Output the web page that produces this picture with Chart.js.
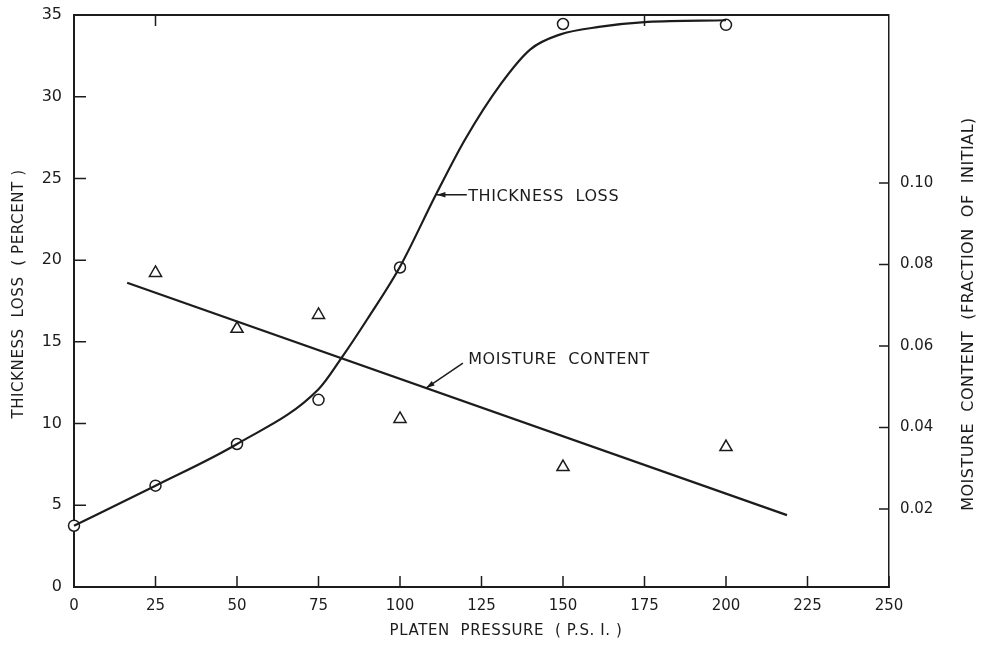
<!DOCTYPE html>
<html>
<head>
<meta charset="utf-8">
<script src="https://cdn.jsdelivr.net/npm/chart.js@4"></script>
<style>
  html, body { margin: 0; padding: 0; background: #fff; }
  #wrap { width: 982px; height: 645px; }
</style>
</head>
<body>
<div id="wrap"><canvas id="chart" width="982" height="645"></canvas></div>
<script>
// observed points
const pressure = [0, 25, 50, 75, 100, 150, 200];
const thicknessObs = [3.75, 6.2, 8.75, 11.45, 19.55, 34.45, 34.4];
const moisturePressure = [25, 50, 75, 100, 150, 200];
const moistureObs = [0.0779, 0.0642, 0.0676, 0.0421, 0.0303, 0.0352];

// hand-drawn fitted curves
const curvePressure = [0, 25, 50, 75, 82, 90, 100, 111, 120, 131, 140, 149, 161, 176, 200];
const curveThickness = [3.75, 6.2, 8.75, 12.1, 14.0, 16.4, 19.6, 24.0, 27.4, 30.8, 32.9, 33.8, 34.27, 34.58, 34.68];
const moistureFitPressure = [16.3, 218.7];
const moistureFit = [0.0755, 0.0185];

// axis ticks
const xTicks = [0, 25, 50, 75, 100, 125, 150, 175, 200, 225, 250];
const yTicks = [0, 5, 10, 15, 20, 25, 30, 35];
const y2Ticks = [0.02, 0.04, 0.06, 0.08, 0.10];
const topTicks = [25, 175];

const INK = '#1c1c1c';
const FONT = "'DejaVu Sans', sans-serif";

const toXY = (xs, ys) => xs.map((x, i) => ({ x: x, y: ys[i] }));

// moisture fit value at a given pressure, for the callout tip
const moistureAt = p => moistureFit[0] + (p - moistureFitPressure[0]) *
    (moistureFit[1] - moistureFit[0]) / (moistureFitPressure[1] - moistureFitPressure[0]);

// inward tick marks, frame top, titles and callouts
const decor = {
    id: 'decor',
    afterDraw(chart) {
        const { ctx, chartArea: a, scales } = chart;
        const x = scales.x, y = scales.y, y2 = scales.y2;
        ctx.save();
        ctx.strokeStyle = INK;
        ctx.fillStyle = INK;

        // top frame line
        ctx.lineWidth = 2;
        ctx.beginPath();
        ctx.moveTo(a.left, a.top);
        ctx.lineTo(a.right, a.top);
        ctx.stroke();

        ctx.lineWidth = 1.5;
        ctx.beginPath();
        yTicks.forEach(v => {
            const p = y.getPixelForValue(v);
            ctx.moveTo(a.left, p); ctx.lineTo(a.left + 12, p);
        });
        xTicks.forEach(v => {
            const p = x.getPixelForValue(v);
            ctx.moveTo(p, a.bottom); ctx.lineTo(p, a.bottom - 11);
        });
        y2Ticks.forEach(v => {
            const p = y2.getPixelForValue(v);
            ctx.moveTo(a.right, p); ctx.lineTo(a.right - 10, p);
        });
        topTicks.forEach(v => {
            const p = x.getPixelForValue(v);
            ctx.moveTo(p, a.top); ctx.lineTo(p, a.top + 11);
        });
        ctx.stroke();

        // axis titles
        ctx.textAlign = 'center';
        ctx.textBaseline = 'middle';
        ctx.font = '15px ' + FONT;
        ctx.letterSpacing = '0.6px';
        ctx.fillText('PLATEN  PRESSURE  ( P.S. I. )', 506, 631);

        ctx.save();
        ctx.translate(19, 294);
        ctx.rotate(-Math.PI / 2);
        ctx.fillText('THICKNESS  LOSS  ( PERCENT )', 0, 0);
        ctx.restore();

        ctx.save();
        ctx.font = '16px ' + FONT;
        ctx.letterSpacing = '0.5px';
        ctx.translate(969, 314);
        ctx.rotate(-Math.PI / 2);
        ctx.fillText('MOISTURE  CONTENT  (FRACTION  OF  INITIAL)', 0, 0);
        ctx.restore();

        // callouts
        const callout = (label, tipX, tipY, tailX, tailY, textX, textY) => {
            const tx = x.getPixelForValue(tipX), ty = tipY;
            const sx = x.getPixelForValue(tailX), sy = tailY;
            ctx.lineWidth = 1.5;
            ctx.beginPath();
            ctx.moveTo(sx, sy); ctx.lineTo(tx, ty);
            ctx.stroke();
            const ang = Math.atan2(sy - ty, sx - tx);
            ctx.beginPath();
            ctx.moveTo(tx, ty);
            ctx.lineTo(tx + 9 * Math.cos(ang - 0.3), ty + 9 * Math.sin(ang - 0.3));
            ctx.lineTo(tx + 9 * Math.cos(ang + 0.3), ty + 9 * Math.sin(ang + 0.3));
            ctx.closePath();
            ctx.fill();
            ctx.font = '16px ' + FONT;
            ctx.letterSpacing = '0.6px';
            ctx.textAlign = 'left';
            ctx.textBaseline = 'middle';
            ctx.fillText(label, x.getPixelForValue(textX), textY);
        };
        callout('THICKNESS  LOSS', 111.3, y.getPixelForValue(24.0),
            120.5, y.getPixelForValue(24.0), 120.9, y.getPixelForValue(23.85));
        callout('MOISTURE  CONTENT', 108, y2.getPixelForValue(moistureAt(108)),
            119.3, y.getPixelForValue(13.7), 120.9, y.getPixelForValue(13.9));

        ctx.restore();
    }
};

new Chart(document.getElementById('chart'), {
    type: 'scatter',
    data: {
        datasets: [
            {
                type: 'line',
                label: 'Thickness loss (curve)',
                data: toXY(curvePressure, curveThickness),
                yAxisID: 'y',
                borderColor: INK,
                borderWidth: 2.2,
                pointRadius: 0,
                cubicInterpolationMode: 'monotone',
                fill: false,
                clip: false
            },
            {
                type: 'line',
                label: 'Moisture content (fit)',
                data: toXY(moistureFitPressure, moistureFit),
                yAxisID: 'y2',
                borderColor: INK,
                borderWidth: 2.2,
                pointRadius: 0,
                fill: false,
                clip: false
            },
            {
                label: 'Thickness loss',
                data: toXY(pressure, thicknessObs),
                yAxisID: 'y',
                pointStyle: 'circle',
                pointRadius: 5.5,
                backgroundColor: '#fff',
                borderColor: INK,
                borderWidth: 1.5,
                clip: false
            },
            {
                label: 'Moisture content',
                data: toXY(moisturePressure, moistureObs),
                yAxisID: 'y2',
                pointStyle: 'triangle',
                pointRadius: 7,
                backgroundColor: '#fff',
                borderColor: INK,
                borderWidth: 1.5,
                clip: false
            }
        ]
    },
    options: {
        responsive: false,
        animation: false,
        layout: { padding: { top: 15 } },
        plugins: {
            legend: { display: false },
            tooltip: { enabled: false }
        },
        scales: {
            x: {
                type: 'linear',
                min: 0,
                max: 250,
                afterBuildTicks: s => { s.ticks = xTicks.map(v => ({ value: v })); },
                afterFit: s => { s.height = 58; },
                grid: { display: false },
                border: { display: true, color: INK, width: 2 },
                ticks: { color: INK, font: { family: FONT, size: 15 }, padding: 2, maxRotation: 0 }
            },
            y: {
                type: 'linear',
                position: 'left',
                min: 0,
                max: 35,
                afterBuildTicks: s => { s.ticks = yTicks.map(v => ({ value: v })); },
                afterFit: s => { s.width = 74; },
                grid: { display: false },
                border: { display: true, color: INK, width: 2 },
                ticks: { color: INK, font: { family: FONT, size: 16 }, padding: 4 }
            },
            y2: {
                type: 'linear',
                position: 'right',
                min: 0.00086,
                max: 0.1412,
                afterBuildTicks: s => { s.ticks = y2Ticks.map(v => ({ value: v })); },
                afterFit: s => { s.width = 93; },
                grid: { display: false },
                border: { display: true, color: INK, width: 1.5 },
                ticks: {
                    color: INK,
                    font: { family: FONT, size: 15 },
                    padding: 3,
                    callback: v => v.toFixed(2)
                }
            }
        }
    },
    plugins: [decor]
});
</script>
</body>
</html>
